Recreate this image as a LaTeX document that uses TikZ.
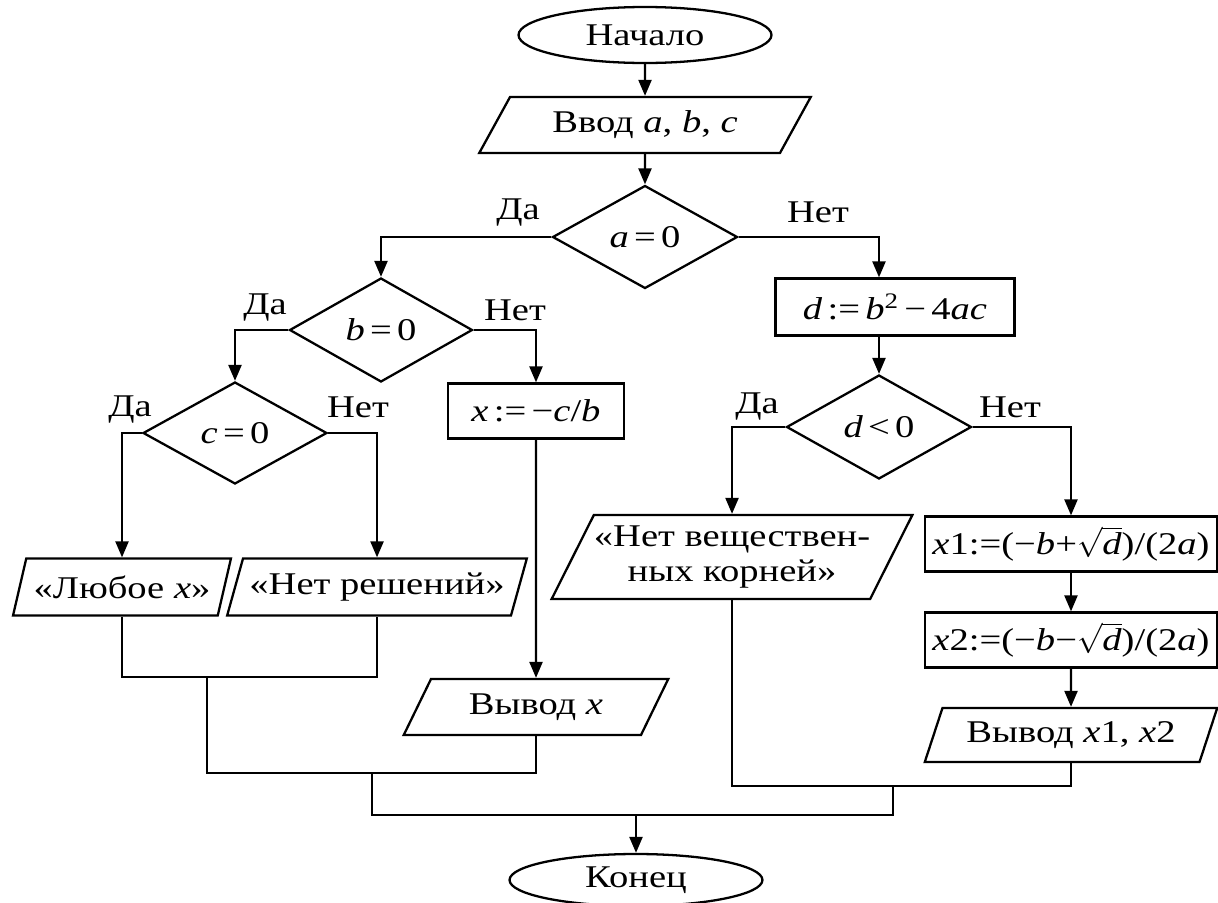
\documentclass[tikz,border=0pt]{standalone}
\usepackage{fontspec}
\setmainfont[FakeStretch=1.22]{Liberation Serif}
\usetikzlibrary{shapes.geometric,arrows.meta}
\newcommand{\iv}[1]{\textit{#1}}
\tikzset{
  term/.style={ellipse,draw,minimum width=5.06cm,minimum height=1.12cm,inner sep=0pt},
  io/.style={trapezium,draw,trapezium stretches=true,trapezium left angle=62,trapezium right angle=118,inner sep=0pt},
  proc/.style={rectangle,draw,inner sep=0pt},
  cond/.style={diamond,draw,aspect=1.8,inner sep=0pt},
  lbl/.style={inner sep=0pt}
}
\begin{document}
\begin{tikzpicture}[x=0.02cm,y=-0.02cm,line width=1.3pt,font=\fontsize{18}{20}\selectfont,>={Triangle[length=0.32cm,width=0.26cm]}]
  \useasboundingbox (0,0) rectangle (1218,903);

  % blocks
  \node[term] (start) at (645,35) {Начало};
  \node[io,trapezium left angle=53,trapezium right angle=127,minimum width=6.64cm,minimum height=1.12cm] (inp) at (645,125) {Ввод \iv{a}, \iv{b}, \iv{c}};
  \node[cond,minimum width=3.7cm,minimum height=2.06cm] (qa) at (645,237) {\iv{a}\,=\,0};
  \node[cond,minimum width=3.66cm,minimum height=2.08cm] (qb) at (381,330) {\iv{b}\,=\,0};
  \node[cond,minimum width=3.68cm,minimum height=2.04cm] (qc) at (235,433) {\iv{c}\,=\,0};
  \node[proc,minimum width=3.52cm,minimum height=1.1cm] (bx) at (536,411) {\iv{x}\,:=\,−\iv{c}/\iv{b}};
  \node[io,minimum width=4.36cm,minimum height=1.14cm] (any) at (122,587) {«Любое \iv{x}»};
  \node[io,minimum width=6.0cm,minimum height=1.14cm] (nosol) at (377,587) {«Нет решений»};
  \node[io,trapezium left angle=57,trapezium right angle=123,minimum width=5.34cm,minimum height=1.12cm] (outx) at (536,707) {Вывод \iv{x}};
  \node[proc,minimum width=4.78cm,minimum height=1.14cm] (dd) at (895,307) {\iv{d}\,:=\,\iv{b}\textsuperscript{2}\,−\,4\iv{ac}};
  \node[cond,minimum width=3.7cm,minimum height=2.08cm] (qd) at (879,427) {\iv{d}\,<\,0};
  \node[io,trapezium left angle=56,trapezium right angle=124,minimum width=7.04cm,minimum height=1.68cm,align=center] (noroot) at (732,557) {«Нет веществен-\\ных корней»};
  \node[proc,minimum width=5.84cm,minimum height=1.1cm] (r1) at (1071,544) {\iv{x}1:=(−\iv{b}+$\sqrt{\mbox{\iv{d}}}$)/(2\iv{a})};
  \node[proc,minimum width=5.84cm,minimum height=1.1cm] (r2) at (1071,640) {\iv{x}2:=(−\iv{b}−$\sqrt{\mbox{\iv{d}}}$)/(2\iv{a})};
  \node[io,minimum width=5.86cm,minimum height=1.08cm] (out2) at (1071,735) {Вывод \iv{x}1, \iv{x}2};
  \node[term,minimum height=1.04cm] (stop) at (636,880) {Конец};

  % labels
  \node[lbl] (ya) at (518,213) {Да};
  \node[lbl] (na) at (818,212) {Нет};
  \node[lbl] (yb) at (265,308) {Да};
  \node[lbl] (nb) at (515,310) {Нет};
  \node[lbl] (yc) at (130,410) {Да};
  \node[lbl] (nc) at (358,407) {Нет};
  \node[lbl] (yd) at (757,407) {Да};
  \node[lbl] (nd) at (1010,407) {Нет};

  % junctions
  \coordinate (m1) at (207,677);
  \coordinate (m2) at (372,773);
  \coordinate (m3) at (893,786);
  \coordinate (m4) at (636,815);

  % arrows
  \draw[->] (start) -- (inp);
  \draw[->] (inp) -- (qa);
  \draw[->] (qa.west) -| (qb.north);
  \draw[->] (qa.east) -| (dd.north -| qd.north);
  \draw[->] (qb.west) -| (qc.north);
  \draw[->] (qb.east) -| (bx.north);
  \draw[->] (qc.west) -| (any.north);
  \draw[->] (qc.east) -| (nosol.north);
  \draw[->] (bx.south) -- (outx.north);
  \draw[->] (dd.south -| qd.north) -- (qd.north);
  \draw[->] (qd.west) -| (noroot.north);
  \draw[->] (qd.east) -| (r1.north);
  \draw[->] (r1) -- (r2);
  \draw[->] (r2) -- (out2);

  % merging
  \draw (any.south) |- (m1) -| (nosol.south);
  \draw (m1) -- (m1 |- m2) -| (outx.south);
  \draw (noroot.south) |- (m3) -| (out2.south);
  \draw (m2) |- (m4) -| (m3);
  \draw[->] (m4) -- (stop);
\end{tikzpicture}
\end{document}
